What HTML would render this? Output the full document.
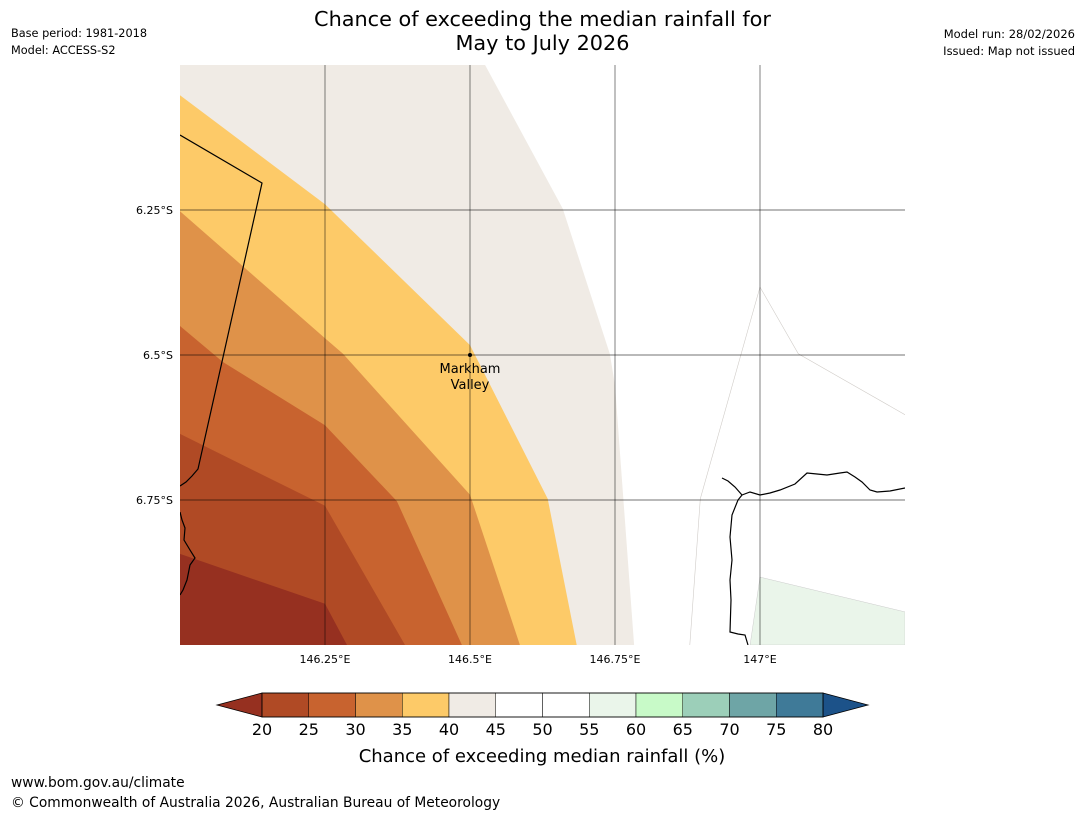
<!DOCTYPE html>
<html><head><meta charset="utf-8"><style>
body{margin:0;background:#fff;font-family:"Liberation Sans","DejaVu Sans",sans-serif;}
#wrap{position:relative;width:1085px;height:816px;overflow:hidden;background:#fff;}
.t{position:absolute;font-size:12px;color:#000;white-space:nowrap;}
</style></head><body>
<div id="wrap">
<div class="t" style="left:0;width:1085px;top:7px;text-align:center;font-size:20.8px;line-height:24px;font-family:'DejaVu Sans',sans-serif;">Chance of exceeding the median rainfall for<br>May to July 2026</div>
<div class="t" style="left:11px;top:27px;font-family:'DejaVu Sans',sans-serif;font-size:11.3px;">Base period: 1981-2018</div>
<div class="t" style="left:11px;top:44px;font-family:'DejaVu Sans',sans-serif;font-size:11.3px;">Model: ACCESS-S2</div>
<div class="t" style="right:10px;top:27px;font-family:'DejaVu Sans',sans-serif;font-size:11.5px;">Model run: 28/02/2026</div>
<div class="t" style="right:10px;top:44px;font-family:'DejaVu Sans',sans-serif;font-size:11.5px;">Issued: Map not issued</div>
<div class="t" style="left:11px;top:775px;font-size:13.8px;font-family:'DejaVu Sans',sans-serif;">www.bom.gov.au/climate</div>
<div class="t" style="left:11px;top:795px;font-size:13.8px;font-family:'DejaVu Sans',sans-serif;">© Commonwealth of Australia 2026, Australian Bureau of Meteorology</div>
<svg id="svg" width="1085" height="816" style="position:absolute;left:0;top:0"></svg>
</div>
<script>
const levelColors=["#f0ebe5","#fdca68","#df9249","#c8632f","#b04a25","#963020"];
const levelNames=["40-45","35-40","30-35","25-30","20-25","below-20"];
const b45=[[146.526,6.0],[146.660,6.248],[146.741,6.498],[146.750,6.552],[146.783,7.0]];
const b40=[[146.0,6.052],[146.25,6.240],[146.5,6.483],[146.634,6.748],[146.684,7.0]];
const b35=[[146.0,6.252],[146.25,6.471],[146.281,6.498],[146.5,6.741],[146.586,7.0]];
const b30=[[146.0,6.45],[146.074,6.512],[146.25,6.621],[146.374,6.752],[146.486,7.0]];
const b25=[[146.0,6.636],[146.25,6.760],[146.388,7.0]];
const b20=[[146.0,6.843],[146.25,6.929],[146.288,7.0]];
const green55=[[147.0,6.883],[147.25,6.943],[147.25,7.0],[146.983,7.0]];
const lonTicks=[146.25,146.5,146.75,147.0];
const lonLabels=["146.25°E","146.5°E","146.75°E","147°E"];
const latTicks=[6.25,6.5,6.75];
const latLabels=["6.25°S","6.5°S","6.75°S"];
const cbLevels=[20,25,30,35,40,45,50,55,60,65,70,75,80];
const cbColors=["#b04a25","#c8632f","#df9249","#fdca68","#f0ebe5","#ffffff","#ffffff","#eaf5ea","#c8fac8","#9ccfb9","#6ea5a6","#3f7a98"];

const X0=180,X1=905,Y0=65,Y1=645,LON0=146,LON1=147.25,LAT0=6,LAT1=7;
const xs=l=>X0+(l-LON0)/(LON1-LON0)*(X1-X0);
const ys=l=>Y0+(l-LAT0)/(LAT1-LAT0)*(Y1-Y0);
const cx=v=>262+(v-20)/60*(823-262);
const svg=document.getElementById('svg');
const NS="http://www.w3.org/2000/svg";
function mk(tag,attrs,parent){const e=document.createElementNS(NS,tag);for(const k in attrs)e.setAttribute(k,attrs[k]);(parent||svg).appendChild(e);return e;}
const pts=a=>a.map(p=>xs(p[0]).toFixed(1)+","+ys(p[1]).toFixed(1)).join(" ");

const clip=mk('clipPath',{id:'mc'});mk('rect',{x:X0,y:Y0,width:X1-X0,height:Y1-Y0},clip);
const g=mk('g',{'clip-path':'url(#mc)'});
const bounds=[b45,b40,b35,b30,b25,b20];
bounds.forEach((b,i)=>{
  const poly=b.concat([[LON0,LAT1],[LON0,LAT0]]);
  const p=mk('polygon',{points:pts(poly),fill:levelColors[i]},g);
  
  
});
const gp=mk('polygon',{points:pts(green55),fill:"#eaf5ea",stroke:"#ccc","stroke-width":0.5},g);


const f1=mk('polyline',{points:pts([[147.0,6.383],[146.897,6.748],[146.879,7.0]]),fill:"none",stroke:"#d0ccc8","stroke-width":0.6},g);


const f2=mk('polyline',{points:pts([[147.0,6.383],[147.066,6.498],[147.25,6.603]]),fill:"none",stroke:"#d0ccc8","stroke-width":0.6},g);


const border=mk('polyline',{points:"180,135 262,183 198,469 192,476 186,482 180,486",fill:"none",stroke:"#000","stroke-width":1.2},g);


const coastL=mk('polyline',{points:"180,512 182,520 185,528 184,540 190,550 195,558 190,565 187,580 183,590 180,595",fill:"none",stroke:"#000","stroke-width":1.2},g);


const coastR=mk('polyline',{points:"722,478 728,481 735,487 742,495 738,500 732,515 730,537 732,560 730,580 731,600 730,632 738,634 745,635 748,645",fill:"none",stroke:"#000","stroke-width":1.2},g);


const coastR2=mk('polyline',{points:"742,495 750,492 760,495 770,493 780,490 795,484 807,473 817,474 827,475 840,473 847,472 855,477 862,482 870,490 877,492 890,491 905,488",fill:"none",stroke:"#000","stroke-width":1.2},g);


lonTicks.forEach((l,i)=>{
  const ln=mk('line',{x1:xs(l),x2:xs(l),y1:Y0,y2:Y1,stroke:"#000","stroke-opacity":0.55,"stroke-width":0.9});
  
  
  const t=mk('text',{x:xs(l),y:Y1+18,"text-anchor":"middle","font-size":11,"font-family":"DejaVu Sans,sans-serif"});
  t.textContent=lonLabels[i];
  
  
});
latTicks.forEach((l,i)=>{
  const ln=mk('line',{x1:X0,x2:X1,y1:ys(l),y2:ys(l),stroke:"#000","stroke-opacity":0.55,"stroke-width":0.9});
  
  
  const t=mk('text',{x:X0-7,y:ys(l)+4,"text-anchor":"end","font-size":11,"font-family":"DejaVu Sans,sans-serif"});
  t.textContent=latLabels[i];
  
  
});
const dot=mk('circle',{cx:xs(146.5),cy:ys(6.5),r:2,fill:"#000"});


const tl=mk('text',{x:xs(146.5),y:ys(6.5)+18,"text-anchor":"middle","font-size":13,"font-family":"DejaVu Sans,sans-serif"});
tl.textContent="Markham";


const tl2=mk('text',{x:xs(146.5),y:ys(6.5)+34,"text-anchor":"middle","font-size":13,"font-family":"DejaVu Sans,sans-serif"});
tl2.textContent="Valley";


const CY0=693,CY1=717;
const la=mk('polygon',{points:`217,${(CY0+CY1)/2} ${cx(20)},${CY0} ${cx(20)},${CY1}`,fill:"#963020",stroke:"#000","stroke-width":0.8});


const ra=mk('polygon',{points:`868,${(CY0+CY1)/2} ${cx(80)},${CY0} ${cx(80)},${CY1}`,fill:"#1c5289",stroke:"#000","stroke-width":0.8});


cbColors.forEach((c,i)=>{
  const r=mk('rect',{x:cx(cbLevels[i]),y:CY0,width:cx(cbLevels[i+1])-cx(cbLevels[i]),height:CY1-CY0,fill:c,stroke:"#000","stroke-width":0.5});
  
  
});
mk('rect',{x:cx(20),y:CY0,width:cx(80)-cx(20),height:CY1-CY0,fill:"none",stroke:"#000","stroke-width":0.8});
cbLevels.forEach(v=>{
  const t=mk('text',{x:cx(v),y:735,"text-anchor":"middle","font-size":16,"font-family":"DejaVu Sans,sans-serif"});
  t.textContent=v;
  
  
});
const ct=mk('text',{x:542,y:762,"text-anchor":"middle","font-size":18,"font-family":"DejaVu Sans,sans-serif"});
ct.textContent="Chance of exceeding median rainfall (%)";


</script>
</body></html>
